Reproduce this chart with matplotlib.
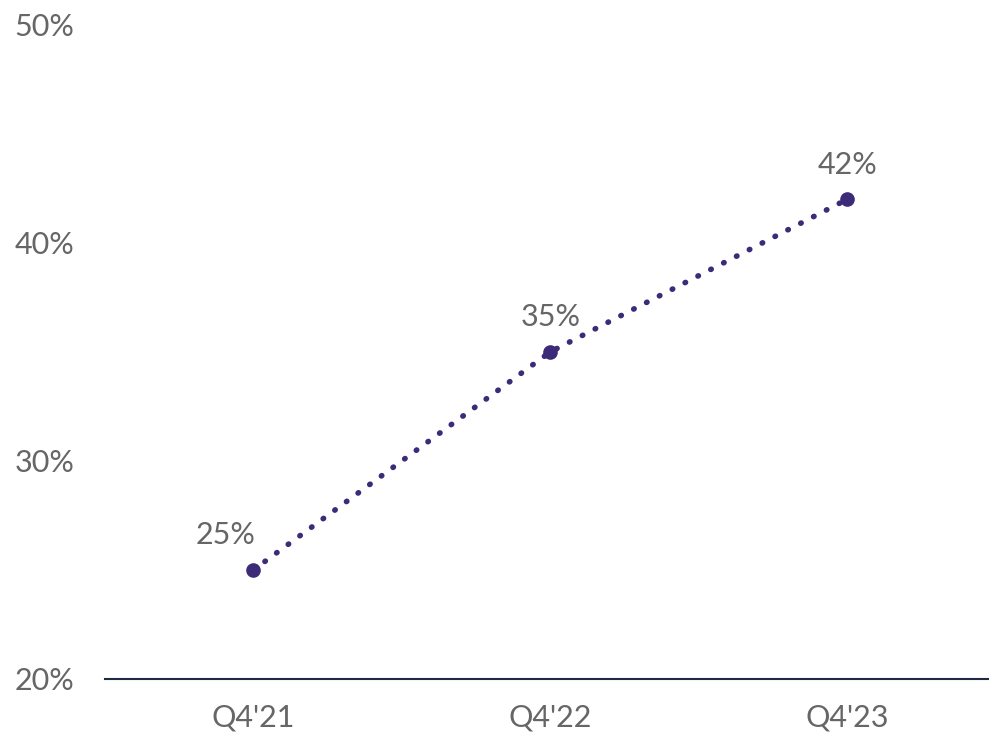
import matplotlib
matplotlib.use("Agg")
import matplotlib.pyplot as plt

quarters = ["Q4'21", "Q4'22", "Q4'23"]
shares = [25, 35, 42]
label_dx = [-20, 0, 0]

line_color = "#3d2a78"
text_color = "#666666"

plt.rcParams["font.family"] = ["Lato", "DejaVu Sans"]

fig = plt.figure(figsize=(9.89, 7.35), dpi=100)
ax = fig.add_axes([0.106, 0.0762, 0.894, 0.8898])

x = list(range(len(quarters)))
ax.plot(x, shares, color=line_color, linewidth=4, linestyle=(0, (0.1, 2.5)),
        dash_capstyle="round", marker="o", markersize=9.5,
        markerfacecolor=line_color, markeredgecolor=line_color)

for xi, v, dx in zip(x, shares, label_dx):
    ax.annotate(f"{v}%", (xi, v), xytext=(dx, 15), textcoords="offset points",
                ha="center", va="bottom", fontsize=22, color=text_color)

ax.set_xlim(-0.5, 2.478)
ax.set_ylim(20, 50)
ax.set_yticks([20, 30, 40, 50])
ax.set_yticklabels([f"{t}%" for t in [20, 30, 40, 50]])
ax.set_xticks(x)
ax.set_xticklabels(quarters)
ax.tick_params(axis="both", length=0, labelsize=22, labelcolor=text_color)
ax.tick_params(axis="y", pad=22)
ax.tick_params(axis="x", pad=18)

for s in ["top", "right", "left"]:
    ax.spines[s].set_visible(False)
ax.spines["bottom"].set_color("#1e2b45")
ax.spines["bottom"].set_linewidth(1.5)

fig.savefig("out.png", dpi=100)
